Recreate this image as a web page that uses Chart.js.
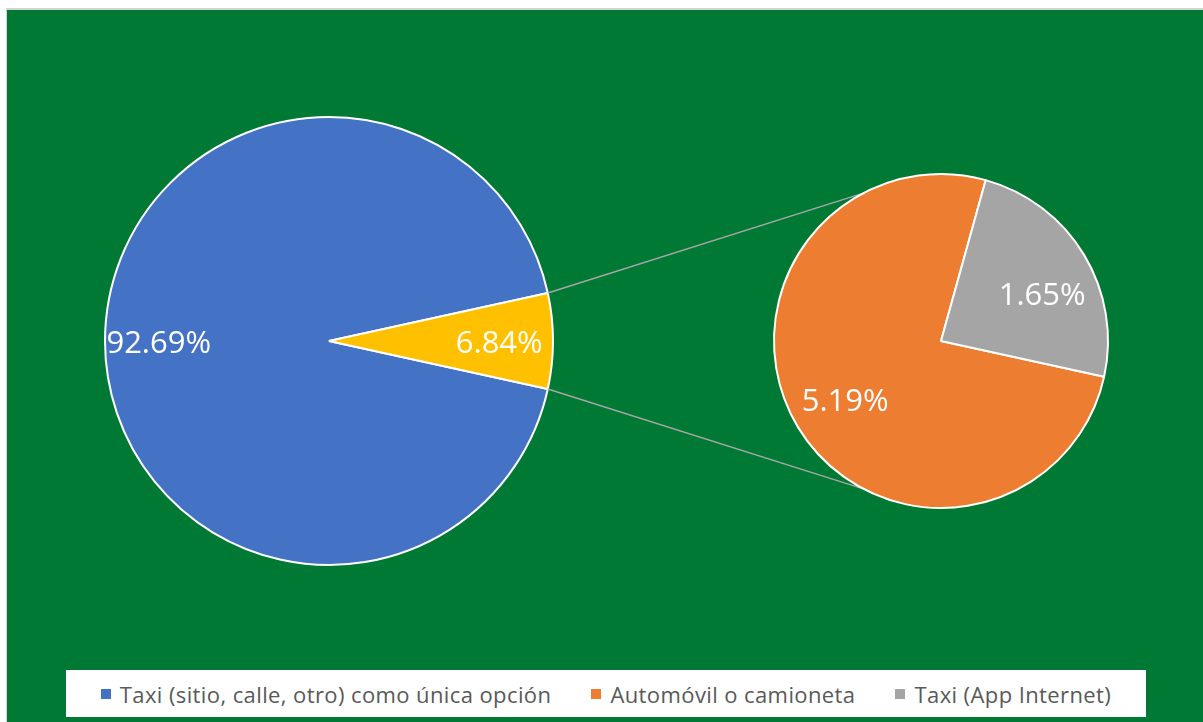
<!DOCTYPE html>
<html>
<head>
<meta charset="utf-8">
<script src="https://cdn.jsdelivr.net/npm/chart.js@4"></script>
<style>
  body { margin: 0; background: #fff; width: 1203px; height: 722px; overflow: hidden; position: relative; font-family: "Open Sans", sans-serif; }
  .frame { position: absolute; left: 6px; top: 8px; right: 0; bottom: 0; background: #007934; border-left: 1px solid #d4d4d4; border-top: 2px solid #d4d4d4; }
  canvas { position: absolute; left: 0; top: 0; }
  .legend { position: absolute; left: 66px; top: 670px; width: 1080px; height: 47px; background: #fff; display: flex; justify-content: center; align-items: center; gap: 40px; color: #595959; font-size: 22px; letter-spacing: 0.4px; }
  .legend span.item { display: flex; align-items: center; }
  .legend i { display: inline-block; width: 10px; height: 10px; margin-right: 9px; }
</style>
</head>
<body>
<div class="frame"></div>
<canvas id="mainPie" width="1203" height="722"></canvas>
<canvas id="detailPie" width="1203" height="722"></canvas>
<div class="legend" id="legend"></div>

<script>
const categories = ["Taxi (sitio, calle, otro) como única opción", "Automóvil o camioneta", "Taxi (App Internet)"];
const categoryColors = ["#4472C4", "#ED7D31", "#A5A5A5"];

// main pie: taxi vs. the grouped "other" slice
const mainLabels = ["Taxi (sitio, calle, otro) como única opción", "Otro"];
const mainValues = [92.69, 6.84];
const mainColors = ["#4472C4", "#FFC000"];

// secondary pie breaking down the grouped slice
const detailLabels = ["Automóvil o camioneta", "Taxi (App Internet)"];
const detailValues = [5.19, 1.65];
const detailColors = ["#ED7D31", "#A5A5A5"];

// put the grouped slice centred on the right side
const total = mainValues[0] + mainValues[1];
const startAngle = 90 + (mainValues[1] / total) * 180;

const valueLabels = {
  id: "valueLabels",
  afterDatasetsDraw(chart, args, opts) {
    const ctx = chart.ctx;
    const meta = chart.getDatasetMeta(0);
    const turn = opts.turn || [];
    ctx.save();
    ctx.fillStyle = "#fff";
    ctx.font = "31px 'Open Sans'";
    ctx.textAlign = "center";
    ctx.textBaseline = "middle";
    meta.data.forEach((arc, i) => {
      const mid = (arc.startAngle + arc.endAngle) / 2 + (turn[i] || 0);
      const r = arc.outerRadius * opts.offset;
      const v = chart.data.datasets[0].data[i];
      ctx.fillText(v.toFixed(2) + "%", arc.x + Math.cos(mid) * r, arc.y + Math.sin(mid) * r + 3);
    });
    ctx.restore();
  }
};

const mainChart = new Chart(document.getElementById("mainPie"), {
  type: "pie",
  data: {
    labels: mainLabels,
    datasets: [{ data: mainValues, backgroundColor: mainColors, borderColor: "#fff", borderWidth: 2 }]
  },
  options: {
    responsive: false,
    animation: false,
    rotation: startAngle,
    layout: { padding: { left: 104, top: 116, right: 649, bottom: 156 } },
    plugins: { legend: { display: false }, tooltip: { enabled: false }, valueLabels: { offset: 0.76 } }
  },
  plugins: [valueLabels]
});

// lines from the grouped slice to the secondary pie
const connectors = {
  id: "connectors",
  beforeDatasetsDraw(chart) {
    const src = mainChart.getDatasetMeta(0).data[1];
    const dst = chart.getDatasetMeta(0).data[0];
    const tilt = 27.7 * Math.PI / 180;
    const ends = [
      [src.startAngle, -Math.PI / 2 - tilt],
      [src.endAngle, Math.PI / 2 + tilt]
    ];
    const ctx = chart.ctx;
    ctx.save();
    ctx.strokeStyle = "#A6A6A6";
    ctx.lineWidth = 1.5;
    ends.forEach(([a, b]) => {
      ctx.beginPath();
      ctx.moveTo(src.x + Math.cos(a) * src.outerRadius, src.y + Math.sin(a) * src.outerRadius);
      ctx.lineTo(dst.x + Math.cos(b) * dst.outerRadius, dst.y + Math.sin(b) * dst.outerRadius);
      ctx.stroke();
    });
    ctx.restore();
  }
};

new Chart(document.getElementById("detailPie"), {
  type: "pie",
  data: {
    labels: detailLabels,
    datasets: [{ data: detailValues, backgroundColor: detailColors, borderColor: "#fff", borderWidth: 2 }]
  },
  options: {
    responsive: false,
    animation: false,
    rotation: startAngle,
    layout: { padding: { left: 773, top: 173, right: 94, bottom: 213 } },
    plugins: { legend: { display: false }, tooltip: { enabled: false }, valueLabels: { offset: 0.67, turn: [0, 0.1] } }
  },
  plugins: [connectors, valueLabels]
});

const legend = document.getElementById("legend");
categories.forEach((name, i) => {
  const item = document.createElement("span");
  item.className = "item";
  item.innerHTML = `<i style="background:${categoryColors[i]}"></i>${name}`;
  legend.appendChild(item);
});
</script>
</body>
</html>
